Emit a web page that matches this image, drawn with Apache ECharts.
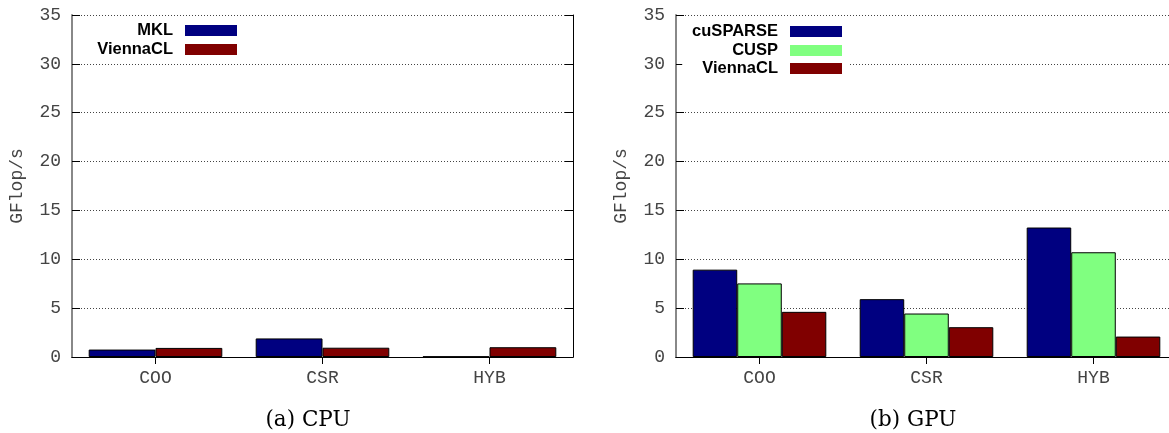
<!DOCTYPE html>
<html><head><meta charset="utf-8">
<script src="https://cdn.jsdelivr.net/npm/echarts@6/dist/echarts.min.js"></script>
<style>html,body{margin:0;padding:0;background:#fff}#c{width:1169px;height:433px}</style>
</head><body><div id="c"></div>
<script>
const categories = ['COO', 'CSR', 'HYB'];
const cpuMKL = [0.76, 1.9, 0.05];
const cpuViennaCL = [0.93, 0.95, 1.0];
const gpuCuSPARSE = [8.94, 5.92, 13.25];
const gpuCUSP = [7.53, 4.45, 10.72];
const gpuViennaCL = [4.62, 3.05, 2.09];
const yMin = 0, yMax = 35, yStep = 5;
const captions = ['(a) CPU', '(b) GPU'];
const yName = 'GFlop/s';

const NAVY = '#000080', MAROON = '#800000', LGREEN = '#80ff80';
const mono = 'Liberation Mono';
const chart = echarts.init(document.getElementById('c'), null, {renderer: 'canvas'});

const gridDefs = [
  {left: 72, top: 15, width: 501, height: 342, outerBoundsMode: 'none', containLabel: false},
  {left: 676, top: 15, width: 501, height: 342, outerBoundsMode: 'none', containLabel: false}
];

const xAxes = [], yAxes = [];
gridDefs.forEach((g, i) => {
  xAxes.push({
    type: 'category', gridIndex: i, position: 'bottom', data: categories,
    axisLine: {lineStyle: {color: '#222', width: 1}},
    axisTick: {show: false},
    axisLabel: {fontFamily: mono, fontSize: 18, color: '#444', margin: 12}
  });
  xAxes.push({
    type: 'category', gridIndex: i, position: 'top', data: categories,
    axisLine: {lineStyle: {color: '#000', width: 1}},
    axisTick: {show: true, inside: true, alignWithLabel: true, length: 7, lineStyle: {color: '#000'}},
    axisLabel: {show: false}
  });
  yAxes.push({
    type: 'value', gridIndex: i, position: 'left', min: yMin, max: yMax, interval: yStep,
    name: yName, nameLocation: 'middle', nameRotate: 90, nameGap: 46,
    nameTextStyle: {fontFamily: mono, fontSize: 18, color: '#444'},
    axisLine: {show: true, lineStyle: {color: '#888', width: 2}},
    axisTick: {show: true, inside: true, length: 8, lineStyle: {color: '#000'}},
    axisLabel: {fontFamily: mono, fontSize: 18, color: '#444', margin: 11},
    splitLine: {show: true, lineStyle: {type: [1, 2], color: '#444', width: 1}}
  });
  yAxes.push({
    type: 'value', gridIndex: i, position: 'right', min: yMin, max: yMax, interval: yStep,
    axisLine: {show: true, lineStyle: {color: '#000', width: 1}},
    axisTick: {show: true, inside: true, length: 8, lineStyle: {color: '#000'}},
    axisLabel: {show: false},
    splitLine: {show: false}
  });
});

function bar(name, data, color, gi) {
  return {
    name: name, type: 'bar', data: data,
    xAxisIndex: gi * 2, yAxisIndex: gi * 2,
    barGap: '0%', barCategoryGap: '20%',
    itemStyle: {color: color, borderColor: '#000', borderWidth: 1, borderRadius: 0},
    emphasis: {disabled: true}
  };
}

function legendItem(name, rightPx, centerY, withBg) {
  return {
    data: [name], orient: 'vertical', align: 'right',
    right: rightPx, top: centerY - 8 - 3,
    itemWidth: 52, itemHeight: 11, icon: 'rect',
    padding: [3, 8, 3, 20],
    backgroundColor: withBg ? '#fff' : 'transparent',
    selectedMode: false,
    itemStyle: {borderWidth: 0},
    textStyle: {fontFamily: 'Liberation Sans', fontWeight: 'bold', fontSize: 16.5, color: '#000', lineHeight: 16, padding: [0, 7, 0, 0]}
  };
}

const option = {
  animation: false,
  backgroundColor: '#fff',
  grid: gridDefs,
  xAxis: xAxes,
  yAxis: yAxes,
  legend: [
    legendItem('MKL', 1169 - 237 - 8, 30, false),
    legendItem('ViennaCL', 1169 - 237 - 8, 49, false),
    legendItem('cuSPARSE', 1169 - 842 - 8, 31, false),
    legendItem('CUSP', 1169 - 842 - 8, 50, false),
    legendItem('ViennaCL', 1169 - 842 - 8, 68, true)
  ],
  title: [
    {text: captions[0], left: 303, top: 404, textAlign: 'center',
     textStyle: {fontFamily: 'DejaVu Serif', fontWeight: 'normal', fontSize: 21.5, color: '#000'}},
    {text: captions[1], left: 908, top: 404, textAlign: 'center',
     textStyle: {fontFamily: 'DejaVu Serif', fontWeight: 'normal', fontSize: 21.5, color: '#000'}}
  ],
  series: [
    bar('MKL', cpuMKL, NAVY, 0),
    bar('ViennaCL', cpuViennaCL, MAROON, 0),
    bar('cuSPARSE', gpuCuSPARSE, NAVY, 1),
    bar('CUSP', gpuCUSP, LGREEN, 1),
    bar('ViennaCL', gpuViennaCL, MAROON, 1)
  ]
};
chart.setOption(option);
</script></body></html>
